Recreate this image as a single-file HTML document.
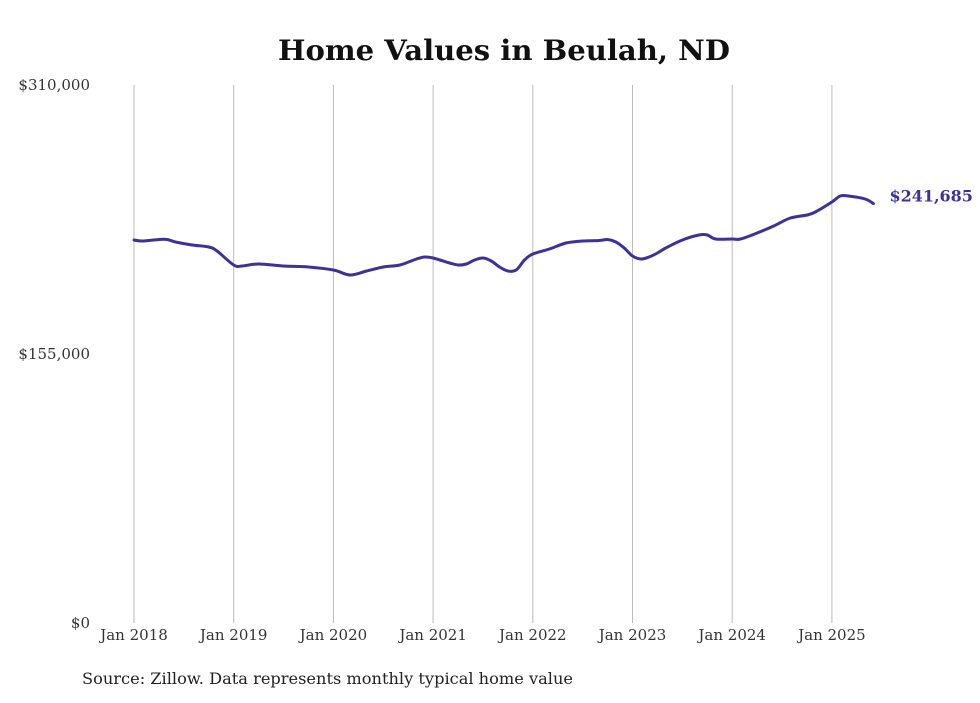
<!DOCTYPE html>
<html><head><meta charset="utf-8"><style>
body{margin:0;background:#fff;width:980px;height:699px;overflow:hidden;font-family:"DejaVu Serif","Liberation Serif",serif}
</style></head><body>
<svg id="chart" width="980" height="699">
<text x="504" y="60" text-anchor="middle" font-size="28" font-weight="bold" fill="#111" font-family="DejaVu Serif, serif" textLength="452" lengthAdjust="spacingAndGlyphs">Home Values in Beulah, ND</text>
<g id="grid"></g><g id="yt"></g><g id="xt"></g>
<path id="line" fill="none" stroke="#3b3397" stroke-width="3" stroke-linejoin="round" stroke-linecap="round"></path>
<text id="endlabel" font-size="16" font-weight="bold" fill="#3b3397"></text>
<text x="82" y="684" font-size="16" fill="#222" textLength="491" lengthAdjust="spacingAndGlyphs">Source: Zillow. Data represents monthly typical home value</text>
</svg>
<script>
const months=[0,1,3,4,5,7,9,10,12,13,15,18,21,24,26,28,30,32,34,35,36,38,39,40,41,42,43,44,45,46,47,48,50,52,54,56,57,58,59,60,61,62,63,64,66,68,69,70,72,73,75,77,79,81,82,84,85,86,88,89];
const values=[220685,220108,220972,220972,219532,217804,216651,214346,206280,205703,206856,205703,205127,203399,200518,202822,205127,206280,209737,210889,210313,207432,206280,206856,209161,210313,208584,205127,202822,203399,209161,212618,215499,218956,220108,220396,220972,219532,216075,211465,209737,210889,213194,216075,220685,223566,223566,221261,221261,221261,224718,228751,233361,235089,236818,242580,246037,246037,244309,241685];
const yTicks=[0,155000,310000];
const yLabels=["$0","$155,000","$310,000"];
const xYears=["Jan 2018","Jan 2019","Jan 2020","Jan 2021","Jan 2022","Jan 2023","Jan 2024","Jan 2025"];
const X=m=>134+m*99.7/12, Y=v=>623-v/310000*538;
const ns="http://www.w3.org/2000/svg";
const grid=document.getElementById('grid'),yt=document.getElementById('yt'),xt=document.getElementById('xt');
xYears.forEach((l,i)=>{
 const x=X(i*12);
 const ln=document.createElementNS(ns,'line');
 
 
 ln.setAttribute('x1',x);ln.setAttribute('x2',x);ln.setAttribute('y1',85);ln.setAttribute('y2',623);
 ln.setAttribute('stroke','#bbb');ln.setAttribute('stroke-width','1');grid.appendChild(ln);
 const t=document.createElementNS(ns,'text');
 
 
 t.setAttribute('x',x);t.setAttribute('y',640);t.setAttribute('text-anchor','middle');t.setAttribute('font-size','15');t.setAttribute('fill','#333');
 t.textContent=l;xt.appendChild(t);
});
yTicks.forEach((v,i)=>{
 const t=document.createElementNS(ns,'text');
 
 
 t.setAttribute('x',90);t.setAttribute('y',Y(v)+5);t.setAttribute('text-anchor','end');t.setAttribute('font-size','15');t.setAttribute('fill','#333');
 t.textContent=yLabels[i];yt.appendChild(t);
});
const pts=months.map((m,i)=>[X(m),Y(values[i])]);
let d='M'+pts[0][0].toFixed(1)+','+pts[0][1].toFixed(1);
for(let i=0;i<pts.length-1;i++){
 const p0=pts[Math.max(0,i-1)],p1=pts[i],p2=pts[i+1],p3=pts[Math.min(pts.length-1,i+2)];
 const c1=[p1[0]+(p2[0]-p0[0])/6,p1[1]+(p2[1]-p0[1])/6],c2=[p2[0]-(p3[0]-p1[0])/6,p2[1]-(p3[1]-p1[1])/6];
 d+=' C'+c1.map(n=>n.toFixed(1))+' '+c2.map(n=>n.toFixed(1))+' '+p2.map(n=>n.toFixed(1));
}
document.getElementById('line').setAttribute('d',d);
const last=values.length-1,el=document.getElementById('endlabel');
el.setAttribute('x',X(months[last])+16);el.setAttribute('y',Y(values[last])-2);
el.textContent='$'+values[last].toLocaleString('en-US');
</script>
</body></html>
